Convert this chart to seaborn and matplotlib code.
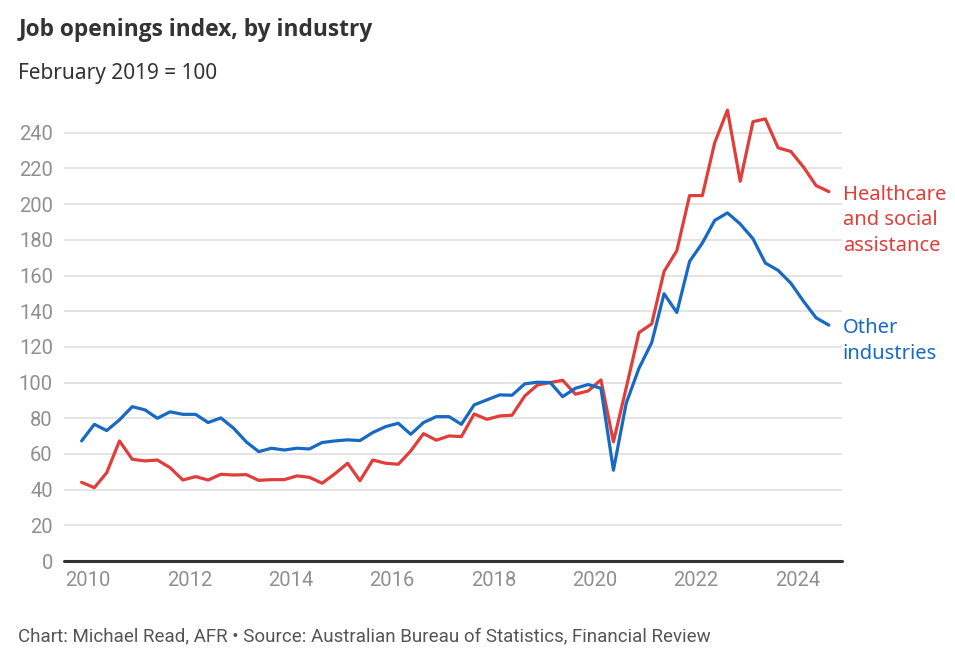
import numpy as np
import pandas as pd
import matplotlib
matplotlib.use("Agg")
import matplotlib.pyplot as plt
import matplotlib.dates as mdates
import seaborn as sns

# ---- data ----
dates = pd.date_range("2009-11-01", periods=60, freq="3MS") + pd.Timedelta(days=14)
healthcare = [44.1, 41.1, 49.5, 67.3, 57.0, 56.1, 56.6, 52.3, 45.4, 47.3, 45.4, 48.6, 48.2, 48.4, 45.2,
              45.6, 45.6, 47.7, 46.9, 43.6, 48.9, 54.8, 45.0, 56.6, 54.8, 54.2, 61.7, 71.4, 67.7, 70.1,
              69.7, 82.4, 79.4, 81.3, 81.7, 92.5, 98.7, 100.0, 101.3, 93.5, 95.3, 101.5, 66.8, 97.0, 128.0,
              132.9, 162.3, 173.9, 204.8, 204.8, 234.4, 252.7, 212.8, 246.2, 247.8, 231.6, 229.5, 220.7,
              210.4, 207.0]
other = [67.3, 76.6, 73.1, 79.1, 86.5, 84.7, 80.0, 83.6, 82.2, 82.2, 77.6, 80.2, 74.4, 66.7, 61.3,
         63.2, 62.2, 63.2, 62.8, 66.4, 67.3, 67.9, 67.5, 72.0, 75.3, 77.2, 71.0, 77.6, 80.9, 80.9,
         76.6, 87.5, 90.3, 93.1, 92.9, 99.3, 100.2, 100.0, 92.1, 96.8, 98.9, 96.8, 50.9, 88.4, 108.0,
         122.4, 149.8, 139.3, 167.9, 178.2, 190.9, 195.1, 188.9, 180.6, 167.0, 162.9, 155.7, 145.5,
         136.3, 132.2]
series_names = ["Healthcare\nand social\nassistance", "Other\nindustries"]
colors = ["#e03e3a", "#1769c4"]
yticks = list(range(0, 241, 20))
xtick_years = [2010, 2012, 2014, 2016, 2018, 2020, 2022, 2024]

df = pd.DataFrame({
    "date": list(dates) * 2,
    "value": healthcare + other,
    "series": [series_names[0]] * len(dates) + [series_names[1]] * len(dates),
})

sns.set_theme(style="white")
plt.rcParams["font.family"] = ["Roboto", "DejaVu Sans"]

fig = plt.figure(figsize=(9.55, 6.58), dpi=100)
ax = fig.add_axes([0.067, 0.1474, 0.815, 0.6915])

sns.lineplot(data=df, x="date", y="value", hue="series", palette=colors,
             linewidth=2.3, ax=ax, legend=False)

ax.set_ylim(0, 255)
ax.set_xlim(pd.Timestamp("2009-07-11"), pd.Timestamp("2024-11-20"))
ax.set_yticks(yticks)
ax.set_yticklabels([str(v) for v in yticks])
ax.set_xticks([pd.Timestamp(f"{y}-01-01") for y in xtick_years])
ax.set_xticklabels([str(y) for y in xtick_years])
ax.set_xlabel("")
ax.set_ylabel("")

for v in yticks[1:]:
    ax.axhline(v, color="#dcdcdc", linewidth=1.1, zorder=0)
ax.axhline(0, color="#333333", linewidth=2.2, zorder=3, clip_on=False)

for s in ax.spines.values():
    s.set_visible(False)
ax.tick_params(axis="both", length=0, labelsize=14.5, labelcolor="#8f8f8f")
ax.tick_params(axis="y", pad=8)
ax.tick_params(axis="x", pad=7)

# end labels
for name, vals, c in zip(series_names, [healthcare, other], colors):
    ax.annotate(name, xy=(dates[-1], vals[-1]), xytext=(10, 5), textcoords="offset points",
                ha="left", va="top", color=c, fontsize=14.5, linespacing=1.38,
                annotation_clip=False, family=["Noto Sans", "DejaVu Sans"])

fig.text(0.019, 0.955, "Job openings index, by industry", fontsize=16.4, fontweight="bold",
         color="#333333", ha="left", va="center", family=["Open Sans", "DejaVu Sans"])
fig.text(0.019, 0.888, "February 2019 = 100", fontsize=15, color="#333333",
         ha="left", va="center", family=["Noto Sans", "DejaVu Sans"])
fig.text(0.019, 0.033, "Chart: Michael Read, AFR \u2022 Source: Australian Bureau of Statistics, Financial Review",
         fontsize=13.5, color="#555555", ha="left", va="center")

fig.savefig("out.png", dpi=100, facecolor="white")
